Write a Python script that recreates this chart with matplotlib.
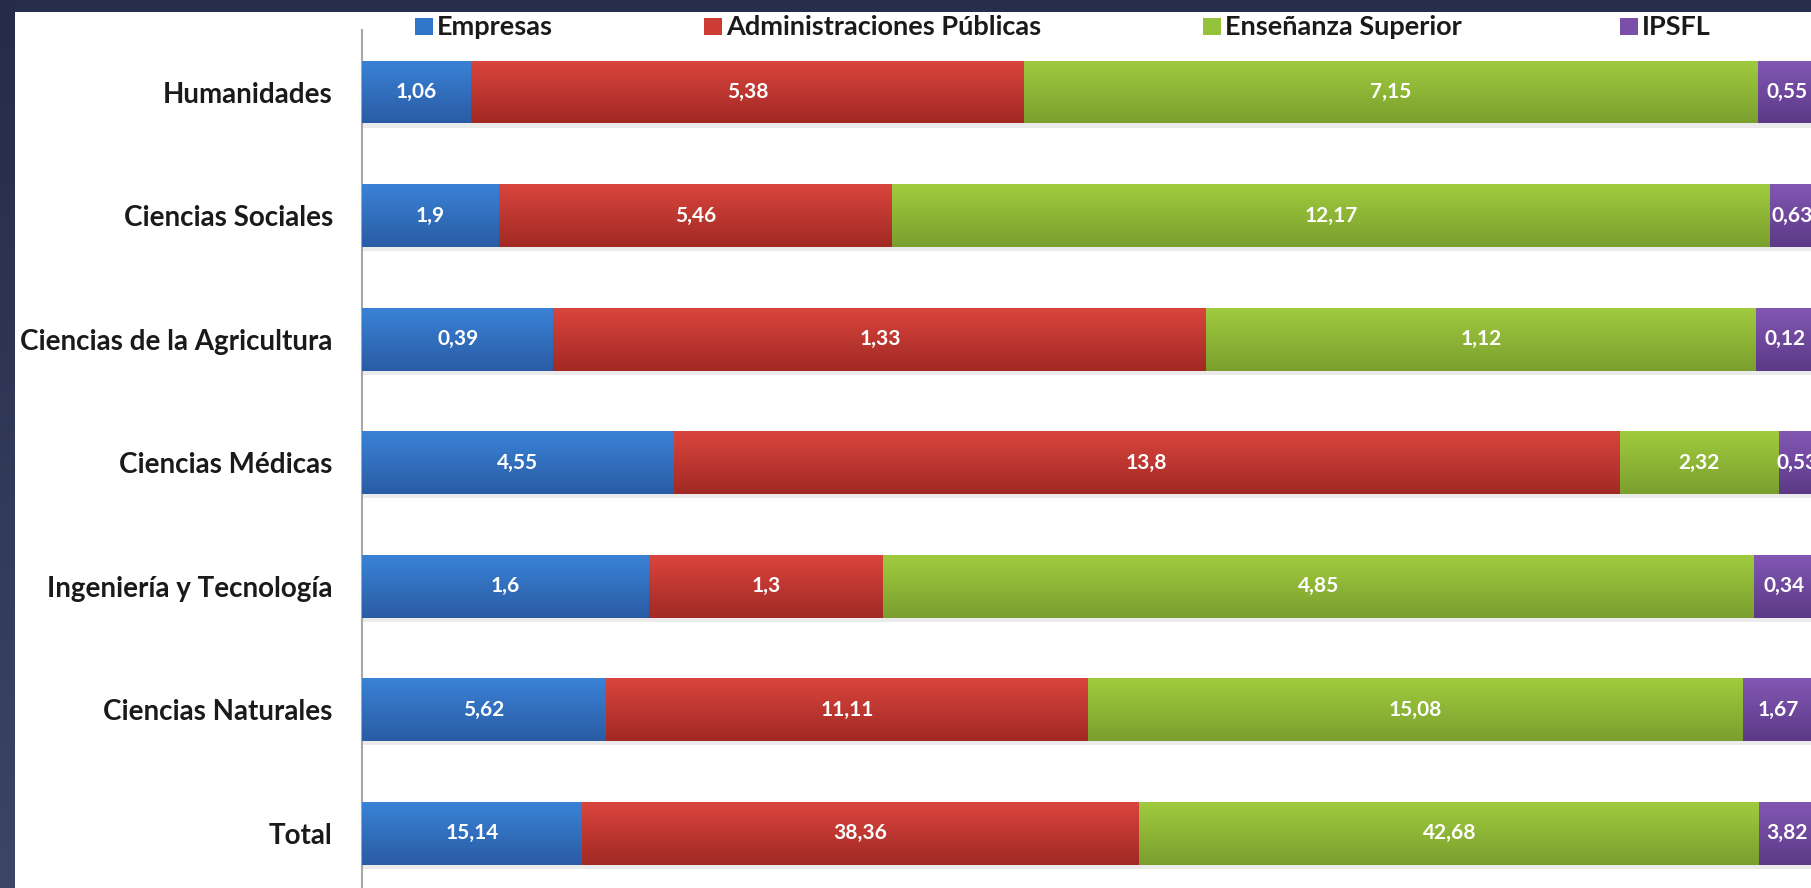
import numpy as np
import matplotlib
matplotlib.use('Agg')
import matplotlib.pyplot as plt
from matplotlib.colors import LinearSegmentedColormap
from matplotlib.patches import Rectangle

# datos (porcentaje de gasto por sector)
categorias = ['Humanidades', 'Ciencias Sociales', 'Ciencias de la Agricultura',
              'Ciencias Médicas', 'Ingeniería y Tecnología', 'Ciencias Naturales', 'Total']
sectores = ['Empresas', 'Administraciones Públicas', 'Enseñanza Superior', 'IPSFL']
empresas = [1.06, 1.9, 0.39, 4.55, 1.6, 5.62, 15.14]
administraciones = [5.38, 5.46, 1.33, 13.8, 1.3, 11.11, 38.36]
ensenanza = [7.15, 12.17, 1.12, 2.32, 4.85, 15.08, 42.68]
ipsfl = [0.55, 0.63, 0.12, 0.53, 0.34, 1.67, 3.82]

series = [empresas, administraciones, ensenanza, ipsfl]
colores = ['#3177C9', '#CC3B34', '#95C13B', '#7A4FA9']
grad_top = ['#3A82D6', '#D9453D', '#A0CB3E', '#8257B3']
grad_bot = ['#2A5CA5', '#A22924', '#7B9F2E', '#5C3A87']

W, H = 1811, 888
plt.rcParams['font.family'] = ['Lato', 'DejaVu Sans']

fig = plt.figure(figsize=(W / 100, H / 100), dpi=100)
fig.patch.set_facecolor('#262E4B')

# borde oscuro a la izquierda con degradado
ax_bg = fig.add_axes([0, 0, 15 / W, 1])
ax_bg.imshow(np.linspace(0, 1, 100).reshape(-1, 1), aspect='auto',
             cmap=LinearSegmentedColormap.from_list('bg', ['#252C48', '#3C4566']))
ax_bg.axis('off')

fig.add_artist(Rectangle((15 / W, 0), 1 - 15 / W, 1 - 12 / H, transform=fig.transFigure,
                         facecolor='white', edgecolor='none', zorder=0))

ax = fig.add_axes([362 / W, 0, 1453 / W, 1 - 30 / H])
ax.set_facecolor('none')

data = np.array(series)
totales = data.sum(axis=0)
pct = data / totales * 100
y = np.arange(len(categorias))
h = 0.51

# sombra
ax.barh(y + 0.035, pct.sum(axis=0), height=h, color='black', alpha=0.08, zorder=1)

grad = np.linspace(0, 1, 64).reshape(-1, 1)
left = np.zeros(len(categorias))
for i, (vals, p) in enumerate(zip(series, pct)):
    bars = ax.barh(y, p, left=left, height=h, color=colores[i], zorder=2)
    cmap = LinearSegmentedColormap.from_list('g%d' % i, [grad_top[i], grad_bot[i]])
    for b, l, w, yy, v in zip(bars, left, p, y, vals):
        im = ax.imshow(grad, cmap=cmap, aspect='auto', zorder=3,
                       extent=(l, l + w, yy + h / 2, yy - h / 2))
        im.set_clip_path(b)
        ax.text(l + w / 2, yy, ('%g' % v).replace('.', ','), ha='center', va='center',
                color='white', fontsize=15, fontweight='bold', zorder=4)
    left = left + p

ax.set_xlim(0, 100)
ax.set_ylim(6.445, -0.502)
ax.set_yticks(y)
ax.set_yticklabels(categorias, fontsize=20, fontweight='bold', color='#1A1A1A')
ax.tick_params(axis='y', length=0, pad=21)
ax.set_xticks([])
for s in ['top', 'right', 'bottom']:
    ax.spines[s].set_visible(False)
ax.spines['left'].set_color('#A6A6A6')
ax.spines['left'].set_linewidth(1.5)

# leyenda
leg_x = [415, 704, 1203, 1620]
for xs, nombre, c in zip(leg_x, sectores, colores):
    fig.add_artist(Rectangle((xs / W, 1 - 35 / H), 18 / W, 17 / H, transform=fig.transFigure,
                             facecolor=c, edgecolor='none'))
    fig.text((xs + 22) / W, 1 - 27 / H, nombre, ha='left', va='center',
             fontsize=19.5, fontweight='bold', color='#1A1A1A')

fig.savefig('out.png', dpi=100, facecolor=fig.get_facecolor())
